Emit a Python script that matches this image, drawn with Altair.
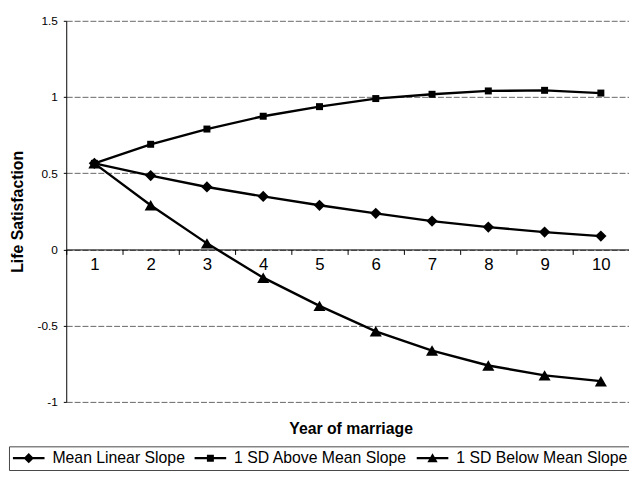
import altair as alt
import pandas as pd

years = [1, 2, 3, 4, 5, 6, 7, 8, 9, 10]
series_names = ["Mean Linear Slope", "1 SD Above Mean Slope", "1 SD Below Mean Slope"]
mean_slope = [0.565, 0.485, 0.41, 0.348, 0.29, 0.237, 0.186, 0.147, 0.114, 0.088]
above_slope = [0.565, 0.69, 0.79, 0.874, 0.937, 0.99, 1.018, 1.04, 1.044, 1.026]
below_slope = [0.565, 0.29, 0.04, -0.185, -0.37, -0.537, -0.663, -0.761, -0.826, -0.864]
y_ticks = [-1, -0.5, 0, 0.5, 1, 1.5]

# marker shapes in the plot and in the legend (legend: line through marker)
plot_shapes = ["diamond", "square", "triangle-up"]
plot_sizes = [130, 50, 150]
legend_shapes = [
    "M-1,-0.14H3V0.14H-1ZM1,-0.65L1.65,0L1,0.65L0.35,0Z",
    "M-1,-0.14H3V0.14H-1ZM0.56,-0.44H1.44V0.44H0.56Z",
    "M-1,-0.14H3V0.14H-1ZM1,-0.62L1.65,0.5H0.35Z",
]

rows = []
for name, vals in [(series_names[0], mean_slope), (series_names[1], above_slope),
                   (series_names[2], below_slope)]:
    for yr, v in zip(years, vals):
        rows.append({"year": yr, "value": v, "series": name})
df = pd.DataFrame(rows)

W, H = 570, 386
FONT = "Liberation Sans"
zero_offset = -H * (0 - (-1)) / 2.5

x = alt.X(
    "year:O",
    scale=alt.Scale(type="band", paddingInner=0, paddingOuter=0),
    axis=alt.Axis(
        title="Year of marriage", labelAngle=0, offset=zero_offset, grid=False,
        domainColor="black", domainWidth=1, tickColor="black", tickSize=5,
        tickBand="extent", labelFontSize=17, labelFont=FONT, labelColor="black",
        labelPadding=2, titleFont=FONT, titleFontSize=16, titleFontWeight="bold",
        titleColor="black", titleX=288, titleY=181, titleBaseline="middle",
    ),
)
y = alt.Y(
    "value:Q",
    scale=alt.Scale(domain=[-1, 1.5], nice=False, zero=False),
    axis=alt.Axis(
        values=y_ticks, labelExpr="'' + datum.value", grid=True, gridColor="#666",
        gridWidth=1, gridDash=[6, 2], domainColor="black", domainWidth=1,
        tickColor="black", tickSize=3, labelPadding=6, labelFontSize=12,
        labelFont=FONT, labelColor="black", title="Life Satisfaction",
        titleFont=FONT, titleFontSize=16, titleFontWeight="bold", titleColor="black",
        titleX=-49, titleY=H / 2, titleBaseline="middle", titleAngle=-90,
    ),
)

lines = alt.Chart(df).mark_line(color="black", strokeWidth=2.4).encode(
    x=x, y=y, detail="series:N"
)

# draw above / below first, mean last so the diamond sits on top at year 1
point_layers = []
for idx in [1, 2, 0]:
    point_layers.append(
        alt.Chart(df)
        .transform_filter(alt.datum.series == series_names[idx])
        .mark_point(filled=True, color="black", opacity=1,
                    shape=plot_shapes[idx], size=plot_sizes[idx])
        .encode(x=x, y=y)
    )

legend_layer = alt.Chart(df).mark_point(filled=True, color="black", opacity=0, size=256).encode(
    x=x, y=y,
    shape=alt.Shape(
        "series:N",
        scale=alt.Scale(domain=series_names, range=legend_shapes),
        legend=alt.Legend(
            title=None, orient="none", legendX=-58, legendY=431, direction="horizontal",
            labelFont=FONT, labelFontSize=16, labelColor="black", labelLimit=400,
            symbolSize=256, symbolStrokeWidth=0, symbolFillColor="black",
            symbolOpacity=1, strokeColor="#444",
            padding=4, columnPadding=9, labelOffset=24,
        ),
    ),
)

chart = (
    alt.layer(lines, *point_layers, legend_layer)
    .properties(
        width=W, height=H,
        autosize=alt.AutoSizeParams(type="none"),
        padding={"left": 59, "top": 10, "right": 0, "bottom": 67},
        background="white",
    )
    .configure_view(stroke=None)
)

chart.save("out.html", embed_options={"renderer": "svg", "actions": False})
